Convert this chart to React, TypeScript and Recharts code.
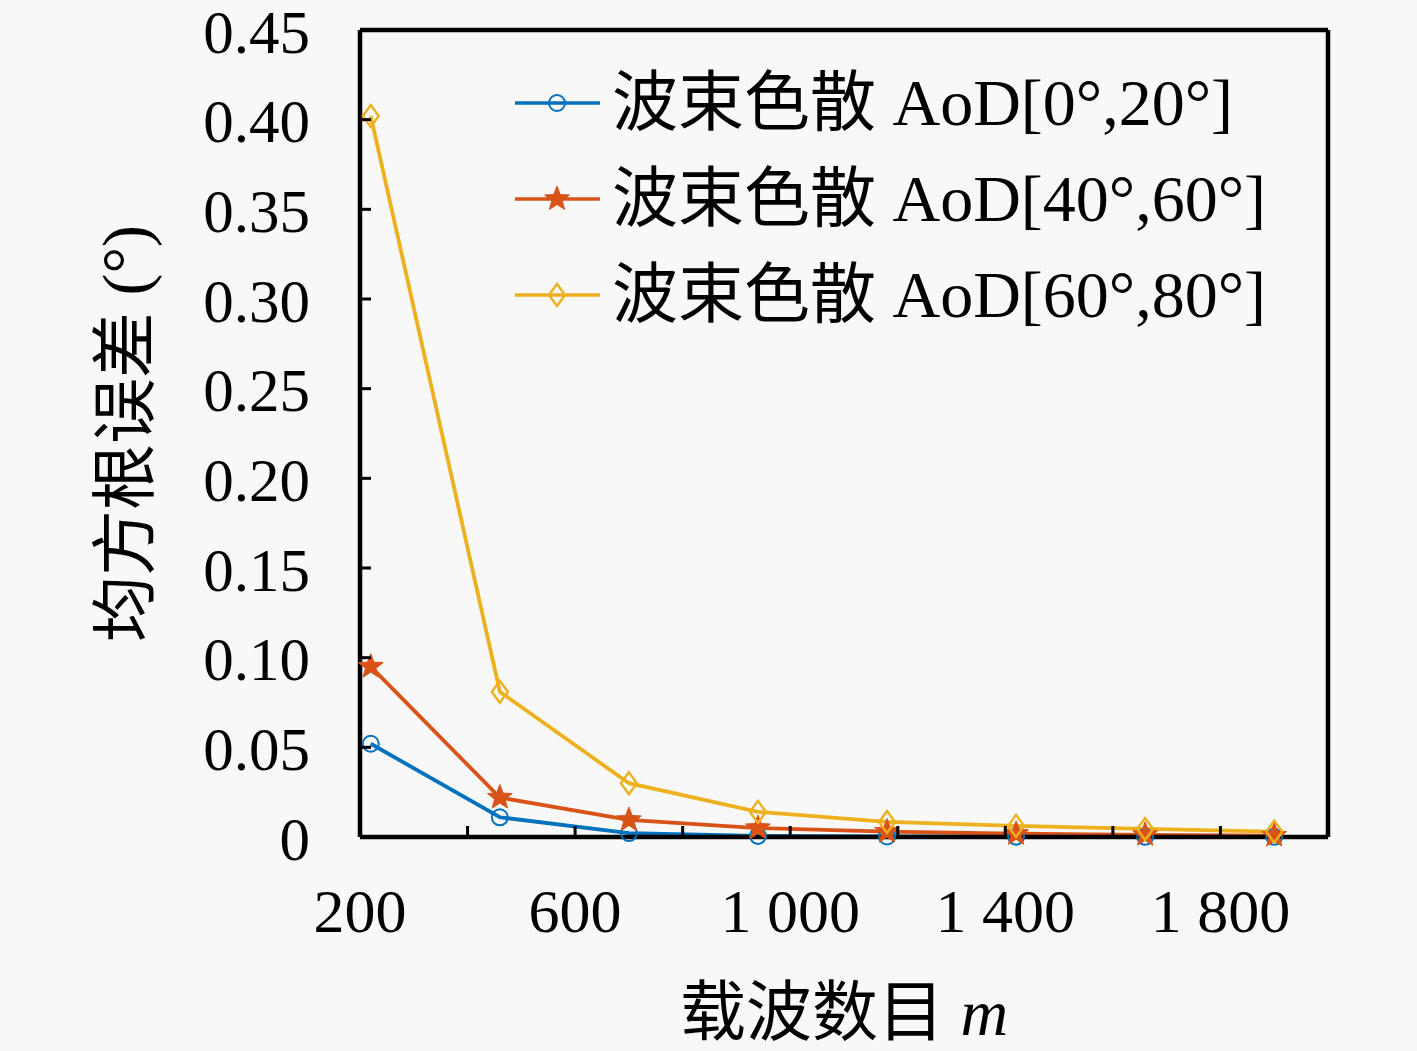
import React from 'react';
import { LineChart, Line, XAxis, YAxis, Legend } from 'recharts';

// carrier count m
const carriers = [220, 460, 700, 940, 1180, 1420, 1660, 1900];

// RMSE (deg) for each AoD range
const rmseAoD0to20 = [0.052, 0.011, 0.0022, 0.0006, 0.0003, 0.0002, 0.0001, 0.0001];
const rmseAoD40to60 = [0.095, 0.022, 0.0095, 0.005, 0.003, 0.0018, 0.0012, 0.0008];
const rmseAoD60to80 = [0.402, 0.081, 0.03, 0.014, 0.0084, 0.0062, 0.0045, 0.003];

const xTicks = [200, 400, 600, 800, 1000, 1200, 1400, 1600, 1800, 2000];
const xTickText = ['200', '', '600', '', '1 000', '', '1 400', '', '1 800', ''];
const yTicks = [0, 0.05, 0.1, 0.15, 0.2, 0.25, 0.3, 0.35, 0.4, 0.45];
const yTickText = ['0', '0.05', '0.10', '0.15', '0.20', '0.25', '0.30', '0.35', '0.40', '0.45'];

const seriesNames = ['波束色散 AoD[0°,20°]', '波束色散 AoD[40°,60°]', '波束色散 AoD[60°,80°]'];
const colors = ['#0072BD', '#D95319', '#EDB120'];

const data = carriers.map((m, i) => ({
    m,
    a: rmseAoD0to20[i],
    b: rmseAoD40to60[i],
    c: rmseAoD60to80[i],
}));

const SERIF = "'Liberation Serif', 'Noto Sans CJK SC', serif";
const BG = '#f8f8f8';
const AXIS = { stroke: '#000', strokeWidth: 4.5 };

const starPoints = (cx: number, cy: number, ro: number, ri: number) => {
    const pts: string[] = [];
    for (let k = 0; k < 10; k++) {
        const r = k % 2 === 0 ? ro : ri;
        const a = -Math.PI / 2 + (k * Math.PI) / 5;
        pts.push(`${cx + r * Math.cos(a)},${cy + r * Math.sin(a)}`);
    }
    return pts.join(' ');
};

const Marker = ({ kind, cx, cy, color }: { kind: number; cx: number; cy: number; color: string }) => {
    if (kind === 0) {
        return <circle cx={cx} cy={cy} r={8} fill="none" stroke={color} strokeWidth={2} />;
    }
    if (kind === 1) {
        return <polygon points={starPoints(cx, cy, 13, 5.5)} fill={color} stroke={color} strokeWidth={1} />;
    }
    return (
        <polygon
            points={`${cx},${cy - 11} ${cx + 8},${cy} ${cx},${cy + 11} ${cx - 8},${cy}`}
            fill="none"
            stroke={color}
            strokeWidth={2.4}
        />
    );
};

const makeDot = (kind: number) => (props: any) => {
    const { cx, cy, index } = props;
    return <Marker key={`d${kind}-${index}`} kind={kind} cx={cx} cy={cy} color={colors[kind]} />;
};

const XTick = (props: any) => {
    const { x, y, payload } = props;
    const label = xTickText[xTicks.indexOf(payload.value)];
    return (
        <g>
            <line x1={x} x2={x} y1={y} y2={y - 11} stroke="#000" strokeWidth={3} />
            {label ? (
                <text x={x} y={y + 74} textAnchor="middle" dominantBaseline="central" fontFamily={SERIF} fontSize={62} fill="#000">
                    {label}
                </text>
            ) : null}
        </g>
    );
};

const YTick = (props: any) => {
    const { x, y, payload } = props;
    const label = yTickText[yTicks.indexOf(payload.value)];
    return (
        <g>
            <line x1={x} x2={x + 11} y1={y} y2={y} stroke="#000" strokeWidth={3} />
            <text x={x - 50} y={y + 2} textAnchor="end" dominantBaseline="central" fontFamily={SERIF} fontSize={61} fill="#000">
                {label}
            </text>
        </g>
    );
};

const YLabel = (props: any) => {
    const { viewBox } = props;
    const cx = viewBox.x + viewBox.width - 235;
    const cy = viewBox.y + viewBox.height / 2;
    return (
        <text
            x={cx}
            y={cy}
            transform={`rotate(-90 ${cx} ${cy})`}
            textAnchor="middle"
            dominantBaseline="central"
            fontFamily={SERIF}
            fontSize={66}
            fill="#000"
        >
            均方根误差 (°)
        </text>
    );
};

const XLabel = (props: any) => {
    const { viewBox } = props;
    const cx = viewBox.x + viewBox.width / 2;
    const cy = viewBox.y + 175;
    return (
        <text x={cx} y={cy} textAnchor="middle" dominantBaseline="central" fontFamily={SERIF} fontSize={66} fill="#000">
            载波数目 <tspan fontStyle="italic">m</tspan>
        </text>
    );
};

const LegendBox = () => (
    <div style={{ fontFamily: SERIF, fontSize: 64, color: '#000' }}>
        {seriesNames.map((name, i) => (
            <div key={name} style={{ display: 'flex', alignItems: 'center', height: 96, whiteSpace: 'nowrap' }}>
                <svg width={100} height={96} style={{ flex: 'none' }}>
                    <line x1={15} x2={100} y1={48} y2={48} stroke={colors[i]} strokeWidth={3.5} />
                    <Marker kind={i} cx={57} cy={48} color={colors[i]} />
                </svg>
                <span style={{ marginLeft: 12, lineHeight: '96px', fontSize: 66 }}>{name}</span>
            </div>
        ))}
    </div>
);

const App: React.FC = () => {
    return (
        <div style={{ position: 'absolute', left: 0, top: 0, width: 1417, height: 1051, background: BG }}>
            <LineChart width={1417} height={1051} data={data} margin={{ top: 29, right: 88, bottom: 213, left: 359 }}>
                <XAxis
                    dataKey="m"
                    type="number"
                    domain={[200, 2000]}
                    ticks={xTicks}
                    height={1}
                    tickSize={0}
                    tickMargin={0}
                    tickLine={false}
                    tick={<XTick />}
                    axisLine={AXIS}
                    interval={0}
                    label={<XLabel />}
                />
                <XAxis
                    xAxisId="top"
                    orientation="top"
                    dataKey="m"
                    type="number"
                    domain={[200, 2000]}
                    height={1}
                    tick={false}
                    tickLine={false}
                    axisLine={AXIS}
                />
                <YAxis
                    type="number"
                    domain={[0, 0.45]}
                    ticks={yTicks}
                    width={1}
                    tickSize={0}
                    tickMargin={0}
                    tickLine={false}
                    tick={<YTick />}
                    axisLine={AXIS}
                    interval={0}
                    label={<YLabel />}
                />
                <YAxis
                    yAxisId="right"
                    orientation="right"
                    domain={[0, 0.45]}
                    width={1}
                    tick={false}
                    tickLine={false}
                    axisLine={AXIS}
                />
                <Legend
                    layout="vertical"
                    align="center"
                    verticalAlign="middle"
                    content={<LegendBox />}
                    wrapperStyle={{ left: 500, top: 55, bottom: 'auto', width: 'auto', height: 'auto' }}
                />
                <Line dataKey="a" stroke={colors[0]} strokeWidth={3.8} dot={makeDot(0)} activeDot={false} isAnimationActive={false} />
                <Line dataKey="b" stroke={colors[1]} strokeWidth={3.8} dot={makeDot(1)} activeDot={false} isAnimationActive={false} />
                <Line dataKey="c" stroke={colors[2]} strokeWidth={3.8} dot={makeDot(2)} activeDot={false} isAnimationActive={false} />
            </LineChart>
        </div>
    );
};

export default App;
